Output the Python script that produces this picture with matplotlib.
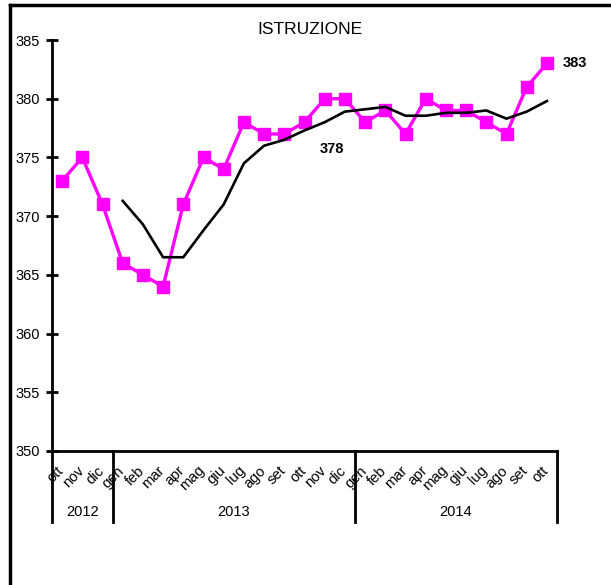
import matplotlib
matplotlib.use("Agg")
import matplotlib.pyplot as plt
from matplotlib.lines import Line2D

plt.rcParams['font.family'] = ['Liberation Sans', 'DejaVu Sans']

mesi = ['ott', 'nov', 'dic',
        'gen', 'feb', 'mar', 'apr', 'mag', 'giu', 'lug', 'ago', 'set', 'ott', 'nov', 'dic',
        'gen', 'feb', 'mar', 'apr', 'mag', 'giu', 'lug', 'ago', 'set', 'ott']
anni = ['2012', '2013', '2014']
mesi_per_anno = [3, 12, 10]

valori = [373, 375, 371,
          366, 365, 364, 371, 375, 374, 378, 377, 377, 378, 380, 380,
          378, 379, 377, 380, 379, 379, 378, 377, 381, 383]

# media mobile (parte da gen 2013)
media = [371.3, 369.3, 366.5, 366.5, 368.8, 371.0, 374.5, 376.0, 376.5, 377.3, 378.0, 378.9,
         379.1, 379.3, 378.55, 378.55, 378.8, 378.8, 379.0, 378.3, 378.9, 379.8]
inizio_media = 3

W, H = 611, 585
fig = plt.figure(figsize=(W / 100, H / 100), dpi=100)
ax = fig.add_axes([52 / W, 1 - 451 / H, (557 - 52) / W, (451 - 40) / H])

x = list(range(len(valori)))
ax.plot(x, valori, color='#FF00FF', lw=2.4, marker='s', markersize=9, zorder=3)
ax.plot(x[inizio_media:], media, color='black', lw=1.9, zorder=4)

ax.set_xlim(-0.5, len(valori) - 0.5)
ax.set_ylim(350, 385)
ax.set_yticks(range(350, 386, 5))
ax.tick_params(axis='y', direction='inout', length=9, width=2, labelsize=10.5, pad=4)
ax.set_xticks([])
for s in ['top', 'right']:
    ax.spines[s].set_visible(False)
ax.spines['left'].set_linewidth(2)
ax.spines['bottom'].set_linewidth(2)
ax.spines['left'].set_zorder(5)

trans = ax.get_xaxis_transform()
for i, m in enumerate(mesi):
    ax.text(i - 0.28, -0.03, m, transform=trans, rotation=45, fontsize=10.5,
            ha='right', va='top', rotation_mode='anchor')

# separatori e anni
sep_bottom = -(522 - 451) / (451 - 40)
pos = -0.5
bordi = [pos]
for n in mesi_per_anno:
    pos += n
    bordi.append(pos)
for b in bordi:
    ax.add_line(Line2D([b, b], [0, sep_bottom], transform=trans, color='black',
                       lw=2, clip_on=False))
for a, b0, b1 in zip(anni, bordi[:-1], bordi[1:]):
    ax.text((b0 + b1) / 2, -(512 - 451) / (451 - 40), a, transform=trans,
            ha='center', va='center', fontsize=10.5)

ax.text(12.75, 375.7, '378', fontsize=10.5, fontweight='bold', ha='left', va='center')
ax.text(24.8, valori[-1], '383', fontsize=10.5, fontweight='bold', ha='left', va='center')

fig.text(310 / W, 1 - 30 / H, 'ISTRUZIONE', ha='center', va='center', fontsize=12.5)

# cornice
fig.add_artist(Line2D([10 / W, 10 / W], [0, 1 - 5 / H], color='black', lw=2.5))
fig.add_artist(Line2D([10 / W, 1], [1 - 5 / H, 1 - 5 / H], color='black', lw=2.5))

fig.savefig('out.png', dpi=100)
